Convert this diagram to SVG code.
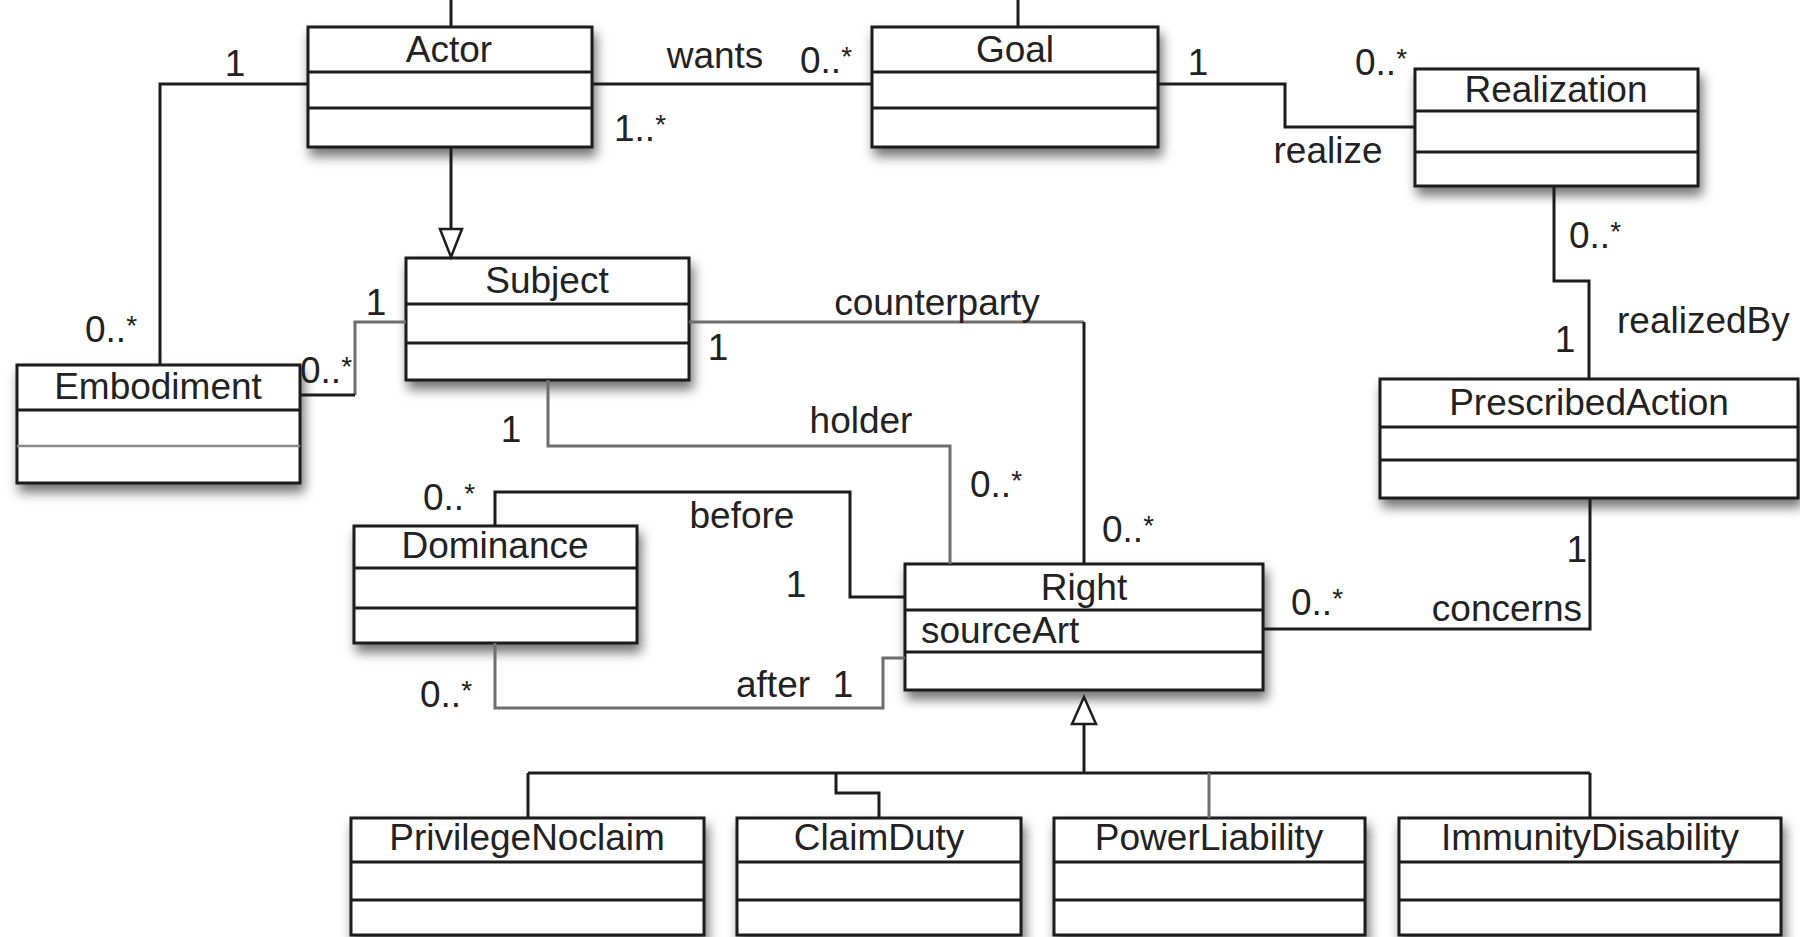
<svg xmlns="http://www.w3.org/2000/svg" width="1800" height="937" viewBox="0 0 1800 937">
  <style>
    .box { fill: #ffffff; stroke: #1c1c1c; stroke-width: 3; }
    .sep { stroke: #1c1c1c; stroke-width: 3; }
    .sep-lt { stroke: #8a8a8a; stroke-width: 2.5; }
    .name { font-family: "Liberation Sans", Arial, Helvetica, sans-serif; font-size: 37px; fill: #222222; text-anchor: middle; }
    .attr { font-family: "Liberation Sans", Arial, Helvetica, sans-serif; font-size: 37px; fill: #222222; }
    .lbl { font-family: "Liberation Sans", Arial, Helvetica, sans-serif; font-size: 37px; fill: #222222; }
    .star { font-size: 28px; }
    .mid { text-anchor: middle; }
    .end { text-anchor: end; }
    .ln { fill: none; stroke: #1c1c1c; stroke-width: 3; }
    .ln-g { fill: none; stroke: #6e6e6e; stroke-width: 3; }
    .gen { fill: #ffffff; stroke: #1c1c1c; stroke-width: 2.5; }
  </style>
  <defs>
    <filter id="shadow" x="-10%" y="-20%" width="125%" height="160%">
      <feDropShadow dx="3" dy="8" stdDeviation="6" flood-color="#000" flood-opacity="0.55"/>
    </filter>
  </defs>

  <rect width="1800" height="937" fill="#ffffff"/>

  <!-- classes -->
  <g id="actor">
    <rect class="box" x="308" y="27" width="284" height="120" filter="url(#shadow)"/>
    <line class="sep" x1="308" y1="72" x2="592" y2="72"/>
    <line class="sep" x1="308" y1="108" x2="592" y2="108"/>
    <text class="name" x="449" y="62">Actor</text>
  </g>

  <g id="goal">
    <rect class="box" x="872" y="27" width="286" height="120" filter="url(#shadow)"/>
    <line class="sep" x1="872" y1="72" x2="1158" y2="72"/>
    <line class="sep" x1="872" y1="108" x2="1158" y2="108"/>
    <text class="name" x="1015" y="62">Goal</text>
  </g>

  <g id="realization">
    <rect class="box" x="1415" y="69" width="283" height="117" filter="url(#shadow)"/>
    <line class="sep" x1="1415" y1="111" x2="1698" y2="111"/>
    <line class="sep" x1="1415" y1="152" x2="1698" y2="152"/>
    <text class="name" x="1556" y="102">Realization</text>
  </g>

  <g id="subject">
    <rect class="box" x="406" y="258" width="283" height="122" filter="url(#shadow)"/>
    <line class="sep" x1="406" y1="304" x2="689" y2="304"/>
    <line class="sep" x1="406" y1="343" x2="689" y2="343"/>
    <text class="name" x="547" y="293">Subject</text>
  </g>

  <g id="embodiment">
    <rect class="box" x="17" y="365" width="283" height="118" filter="url(#shadow)"/>
    <line class="sep" x1="17" y1="410" x2="300" y2="410"/>
    <line class="sep-lt" x1="17" y1="446" x2="300" y2="446"/>
    <text class="name" x="158" y="399">Embodiment</text>
  </g>

  <g id="prescribedaction">
    <rect class="box" x="1380" y="379" width="418" height="119" filter="url(#shadow)"/>
    <line class="sep" x1="1380" y1="427" x2="1798" y2="427"/>
    <line class="sep" x1="1380" y1="460" x2="1798" y2="460"/>
    <text class="name" x="1589" y="415">PrescribedAction</text>
  </g>

  <g id="dominance">
    <rect class="box" x="354" y="526" width="283" height="117" filter="url(#shadow)"/>
    <line class="sep" x1="354" y1="568" x2="637" y2="568"/>
    <line class="sep" x1="354" y1="608" x2="637" y2="608"/>
    <text class="name" x="495" y="558">Dominance</text>
  </g>

  <g id="right">
    <rect class="box" x="905" y="564" width="358" height="126" filter="url(#shadow)"/>
    <line class="sep" x1="905" y1="610" x2="1263" y2="610"/>
    <line class="sep" x1="905" y1="652" x2="1263" y2="652"/>
    <text class="name" x="1084" y="600">Right</text>
    <text class="attr" x="921" y="643">sourceArt</text>
  </g>

  <g id="privilegenoclaim">
    <rect class="box" x="351" y="818" width="353" height="117" filter="url(#shadow)"/>
    <line class="sep" x1="351" y1="862" x2="704" y2="862"/>
    <line class="sep" x1="351" y1="900" x2="704" y2="900"/>
    <text class="name" x="527" y="850">PrivilegeNoclaim</text>
  </g>

  <g id="claimduty">
    <rect class="box" x="737" y="818" width="284" height="117" filter="url(#shadow)"/>
    <line class="sep" x1="737" y1="862" x2="1021" y2="862"/>
    <line class="sep" x1="737" y1="900" x2="1021" y2="900"/>
    <text class="name" x="879" y="850">ClaimDuty</text>
  </g>

  <g id="powerliability">
    <rect class="box" x="1054" y="818" width="311" height="117" filter="url(#shadow)"/>
    <line class="sep" x1="1054" y1="862" x2="1365" y2="862"/>
    <line class="sep" x1="1054" y1="900" x2="1365" y2="900"/>
    <text class="name" x="1209" y="850">PowerLiability</text>
  </g>

  <g id="immunitydisability">
    <rect class="box" x="1399" y="818" width="382" height="117" filter="url(#shadow)"/>
    <line class="sep" x1="1399" y1="862" x2="1781" y2="862"/>
    <line class="sep" x1="1399" y1="900" x2="1781" y2="900"/>
    <text class="name" x="1590" y="850">ImmunityDisability</text>
  </g>

  <!-- associations and generalizations -->
  <g id="connectors">
    <path class="ln" d="M451 0 V27"/>
    <path class="ln" d="M1018 0 V27"/>
    <!-- wants -->
    <path class="ln" d="M592 84 H872"/>
    <!-- Actor - Embodiment -->
    <path class="ln" d="M308 84 H160 V365"/>
    <!-- Actor is a Subject -->
    <path class="ln" d="M451 147 V229"/>
    <polygon class="gen" points="440,229 462,229 451,257"/>
    <!-- realize -->
    <path class="ln" d="M1158 84 H1285 V127 H1415"/>
    <!-- realizedBy -->
    <path class="ln" d="M1554 186 V281 H1589 V379"/>
    <!-- Subject - Embodiment -->
    <path class="ln-g" d="M406 322 H355 V395"/>
    <path class="ln" d="M355 395 H300"/>
    <!-- counterparty -->
    <path class="ln-g" d="M689 322 H1084"/>
    <path class="ln" d="M1084 322 V564"/>
    <!-- holder -->
    <path class="ln-g" d="M548 380 V446 H950 V564"/>
    <!-- before -->
    <path class="ln" d="M495 526 V492 H850 V597 H905"/>
    <!-- after -->
    <path class="ln-g" d="M495 643 V708 H883 V658 H905"/>
    <!-- concerns -->
    <path class="ln" d="M1263 629 H1590 V498"/>
    <!-- Right subtypes -->
    <polygon class="gen" points="1084,697 1096,724 1072,724"/>
    <path class="ln" d="M1084 724 V773"/>
    <path class="ln" d="M528 773 H1590"/>
    <path class="ln" d="M528 773 V818"/>
    <path class="ln" d="M836 773 V793 H879 V818"/>
    <path class="ln-g" d="M1209 773 V818"/>
    <path class="ln" d="M1590 773 V818"/>
  </g>

  <!-- role names and multiplicities -->
  <g id="labels">
    <text class="lbl mid" x="235" y="76">1</text>
    <text class="lbl" x="85" y="342">0..<tspan class="star" dy="-7">*</tspan></text>
    <text class="lbl mid" x="715" y="68">wants</text>
    <text class="lbl" x="800" y="73">0..<tspan class="star" dy="-7">*</tspan></text>
    <text class="lbl" x="614" y="141">1..<tspan class="star" dy="-7">*</tspan></text>
    <text class="lbl mid" x="1198" y="75">1</text>
    <text class="lbl" x="1355" y="75">0..<tspan class="star" dy="-7">*</tspan></text>
    <text class="lbl mid" x="1328" y="163">realize</text>
    <text class="lbl" x="1569" y="248">0..<tspan class="star" dy="-7">*</tspan></text>
    <text class="lbl mid" x="1565" y="352">1</text>
    <text class="lbl" x="1617" y="333">realizedBy</text>
    <text class="lbl mid" x="376" y="315">1</text>
    <text class="lbl" x="300" y="383">0..<tspan class="star" dy="-7">*</tspan></text>
    <text class="lbl mid" x="718" y="360">1</text>
    <text class="lbl mid" x="937" y="315">counterparty</text>
    <text class="lbl mid" x="861" y="433">holder</text>
    <text class="lbl mid" x="511" y="442">1</text>
    <text class="lbl" x="970" y="497">0..<tspan class="star" dy="-7">*</tspan></text>
    <text class="lbl" x="1102" y="542">0..<tspan class="star" dy="-7">*</tspan></text>
    <text class="lbl" x="423" y="510">0..<tspan class="star" dy="-7">*</tspan></text>
    <text class="lbl mid" x="742" y="528">before</text>
    <text class="lbl mid" x="796" y="597">1</text>
    <text class="lbl" x="420" y="707">0..<tspan class="star" dy="-7">*</tspan></text>
    <text class="lbl" x="736" y="697">after</text>
    <text class="lbl mid" x="843" y="697">1</text>
    <text class="lbl" x="1291" y="615">0..<tspan class="star" dy="-7">*</tspan></text>
    <text class="lbl end" x="1582" y="621">concerns</text>
    <text class="lbl end" x="1587" y="562">1</text>
  </g>
</svg>
